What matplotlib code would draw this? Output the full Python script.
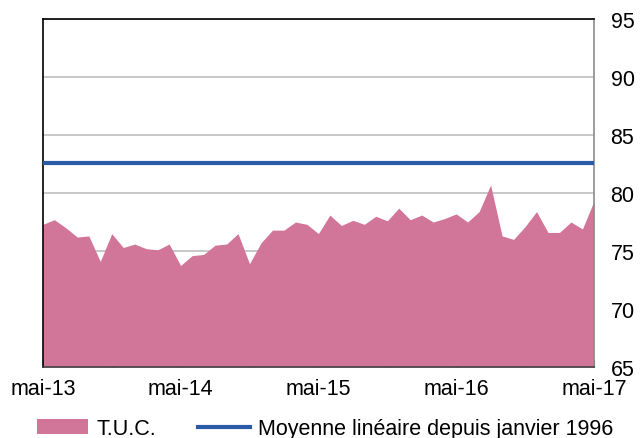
import matplotlib
matplotlib.use("Agg")
import matplotlib.pyplot as plt
from matplotlib.patches import Patch
from matplotlib.lines import Line2D

plt.rcParams["font.family"] = ["Liberation Sans", "DejaVu Sans"]

# T.U.C. mensuel, mai-13 -> mai-17
tuc = [77.3, 77.7, 77.0, 76.2, 76.3, 74.1, 76.5, 75.3, 75.6, 75.2,
       75.1, 75.6, 73.75, 74.6, 74.7, 75.5, 75.6, 76.5, 73.9, 75.7,
       76.8, 76.8, 77.5, 77.3, 76.5, 78.1, 77.2, 77.65, 77.3, 78.0,
       77.6, 78.7, 77.7, 78.1, 77.5, 77.8, 78.2, 77.5, 78.4, 80.7,
       76.3, 76.0, 77.1, 78.4, 76.6, 76.6, 77.5, 76.9, 79.3]
moyenne = 82.6
tick_labels = ["mai-13", "mai-14", "mai-15", "mai-16", "mai-17"]
y_ticks = [65, 70, 75, 80, 85, 90, 95]

pink = "#D17698"
blue = "#2B5BA6"
fs = 15.5

fig = plt.figure(figsize=(6.4, 4.39), dpi=100)
ax = fig.add_axes([0.067, 0.162, 0.861, 0.792])

x = list(range(len(tuc)))
ax.fill_between(x, 65, tuc, color=pink, linewidth=0, zorder=2)
ax.axhline(moyenne, color=blue, linewidth=3, zorder=3)

ax.set_xlim(0, len(tuc) - 1)
ax.set_ylim(65, 95)

ax.set_yticks(y_ticks)
ax.yaxis.tick_right()
ax.tick_params(axis="y", length=0, labelsize=fs, pad=12)
ax.grid(axis="y", color="#BFBFBF", linewidth=1.2, zorder=1)

ax.set_xticks(range(0, len(tuc), 6))
ax.set_xticklabels([tick_labels[i // 2] if i % 2 == 0 else "" for i in range(9)])
ax.tick_params(axis="x", direction="in", length=5, labelsize=fs, pad=8,
               color="#404040")

ax.spines["left"].set_color("black")
ax.spines["top"].set_color("black")
ax.spines["right"].set_color("#8C8C8C")
ax.spines["bottom"].set_color("#404040")
for s in ax.spines.values():
    s.set_linewidth(1.2)

handles = [Patch(facecolor=pink, edgecolor="none"),
           Line2D([0], [0], color=blue, linewidth=3)]
fig.legend(handles, ["T.U.C.", "Moyenne linéaire depuis janvier 1996"],
           loc="lower left", bbox_to_anchor=(0.027, -0.047), ncol=2, frameon=False,
           fontsize=fs, handlelength=2.4, handletextpad=0.37, columnspacing=1.95)

fig.savefig("out.png", dpi=100)
